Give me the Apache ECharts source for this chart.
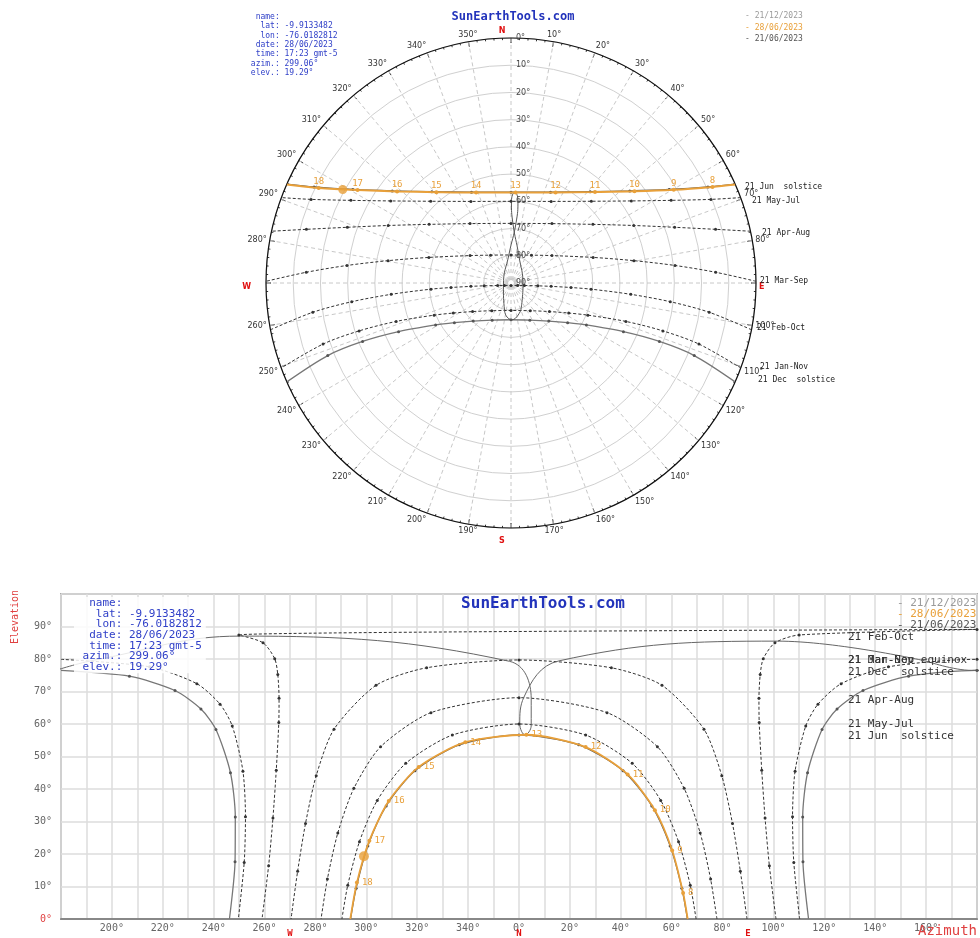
<!DOCTYPE html>
<html><head><meta charset="utf-8">
<script src="https://cdn.jsdelivr.net/npm/echarts/dist/echarts.min.js"></script>
<style>html,body{margin:0;padding:0;background:#fff}#c{width:980px;height:938px}</style>
</head><body><div id="c"></div>
<script>
// ---- Sun path data: [azimuth°, elevation°] ----
const junSolstice = [[66.2,0],[64.0,9.5],[59.4,22.5],[52.2,34.8],[40.9,45.6],[23.5,53.6],[0,56.65],[336.5,53.6],[319.1,45.6],[307.8,34.8],[300.6,22.5],[296.0,9.5],[293.8,0]];
const mayJul = [[69.6,0],[67.3,10.4],[62.7,23.8],[55.7,36.5],[44.5,47.9],[26.2,56.6],[0,60.0],[333.8,56.6],[315.5,47.9],[304.3,36.5],[297.3,23.8],[292.7,10.4],[290.4,0]];
const aprAug = [[77.8,0],[75.3,12.3],[71.2,26.5],[64.9,40.2],[54.4,53.0],[34.6,63.5],[0,68.1],[325.4,63.5],[305.6,53.0],[295.1,40.2],[288.8,26.5],[284.7,12.3],[282.2,0]];
const marSep = [[89.6,0],[87.0,14.7],[83.9,29.4],[79.7,44.1],[72.7,58.4],[56.2,71.9],[36.3,77.3],[0,79.7],[323.7,77.3],[303.8,71.9],[287.3,58.4],[280.3,44.1],[276.1,29.4],[273.0,14.7],[270.4,0]];
const febOct = [[101.0,0],[98.4,16.4],[96.7,31.1],[95.4,45.8],[94.4,60.5],[94.3,67.9],[94.8,75.2],[96.0,80.1],[100.6,85.0],[110.1,87.4],[180,89.1],[249.9,87.4],[259.4,85.0],[264.0,80.1],[265.2,75.2],[265.7,67.9],[265.6,60.5],[264.6,45.8],[263.3,31.1],[261.6,16.4],[259.0,0]];
const janNov = [[110.3,0],[108.0,17.4],[107.5,31.5],[108.5,45.5],[112.7,59.4],[117.5,66.1],[126.6,72.4],[145.2,77.6],[180,79.9],[214.8,77.6],[233.4,72.4],[242.5,66.1],[247.3,59.4],[251.5,45.5],[252.5,31.5],[252.0,17.4],[249.7,0]];
const decSolstice = [[113.8,0],[111.6,17.6],[111.5,31.4],[113.4,45.0],[119.1,58.3],[125.0,64.6],[135.2,70.3],[153.1,74.7],[180,76.5],[206.9,74.7],[224.8,70.3],[235.0,64.6],[240.9,58.3],[246.6,45.0],[248.5,31.4],[248.4,17.6],[246.2,0]];
// 28/06/2023 path with hour labels
const todayPath = [[66.3,0],[64.5,8.0],[60.2,21.1],[53.4,33.5],[42.7,44.5],[26.2,52.9],[2.9,56.7],[338.9,54.4],[320.6,46.8],[308.8,36.3],[301.2,24.1],[296.3,11.2],[293.7,0]];
const todayHours = [null,8,9,10,11,12,13,14,15,16,17,18,null];
const sunNow = [299.06, 19.29];
// analemma (monthly, 21st)
const analemma = [[160.3,79.3],[101.5,85.5],[15.6,79.4],[1.9,68.2],[0.3,60.0],[2.4,56.6],[4.8,59.5],[4.8,67.8],[356.2,79.3],[250.4,87.05],[193.4,79.7],[177.9,76.5],[160.3,79.3]];

const infoLines = ['  name:','   lat: -9.9133482','   lon: -76.0182812','  date: 28/06/2023','  time: 17:23 gmt-5',' azim.: 299.06°',' elev.: 19.29°'];
const legendDates = ['- 21/12/2023','- 28/06/2023','- 21/06/2023'];
const legendColors = ['#9a9a9a','#e8a03a','#555555'];

const ORANGE = '#e8a03a';
const MONO = '"DejaVu Sans Mono", "Liberation Mono", monospace';

function toX(az){ return az > 180 ? az - 360 : az; }

function polarData(pts, hours){
  return pts.map((p,i)=>{
    const it = {value:[p[1], p[0]]};
    if (p[1] === 0) it.symbol = 'none';
    if (hours && hours[i] != null) it.label = {show:true, formatter:String(hours[i])};
    return it;
  });
}
function cartData(pts, hours){
  const out = []; let prev = null;
  pts.forEach((p,i)=>{
    const x = toX(p[0]), y = p[1];
    if (prev && Math.abs(x - prev[0]) > 300) {
      const s = x < prev[0] ? 360 : -360;
      out.push({value:[x + s, y], symbol:'none'});
      out.push([NaN, NaN]);
      out.push({value:[prev[0] - s, prev[1]], symbol:'none'});
    }
    const it = {value:[x, y]};
    if (y === 0) it.symbol = 'none';
    if (hours && hours[i] != null) it.label = {show:true, formatter:String(hours[i])};
    out.push(it);
    prev = [x, y];
  });
  return out;
}

const dotted = {color:'#333', width:1, type:[3,2]};
const paths = [
  {d:mayJul, ls:dotted, c:'#333'},
  {d:aprAug, ls:dotted, c:'#333'},
  {d:marSep, ls:dotted, c:'#333'},
  {d:febOct, ls:dotted, c:'#333'},
  {d:janNov, ls:dotted, c:'#333'},
  {d:decSolstice, ls:{color:'#777', width:1.3}, c:'#555'},
  {d:junSolstice, ls:{color:'#555', width:1.3}, c:'#444'}
];

const series = [];
paths.forEach(p=>{
  series.push({type:'line', coordinateSystem:'polar', data:polarData(p.d), smooth:0.3, symbol:'circle', symbolSize:3,
    lineStyle:p.ls, itemStyle:{color:p.c}, silent:true, z:3});
  series.push({type:'line', xAxisIndex:0, yAxisIndex:0, data:cartData(p.d), smooth:0.25, symbol:'circle', symbolSize:3,
    lineStyle:p.ls, itemStyle:{color:p.c}, silent:true, z:3});
});
// analemma
series.push({type:'line', coordinateSystem:'polar', data:polarData(analemma), smooth:0.5, showSymbol:false,
  lineStyle:{color:'#555', width:1}, silent:true, z:3});
series.push({type:'line', xAxisIndex:0, yAxisIndex:0, data:cartData(analemma), smooth:0.4, showSymbol:false,
  lineStyle:{color:'#666', width:1}, silent:true, z:3});
// today path
const orangeLabel = {position:'top', distance:0, color:ORANGE, fontSize:9, fontFamily:MONO};
series.push({type:'line', coordinateSystem:'polar', data:polarData(todayPath, todayHours), smooth:0.3, symbol:'circle', symbolSize:4,
  lineStyle:{color:ORANGE, width:2}, itemStyle:{color:ORANGE}, label:orangeLabel, silent:true, z:5});
series.push({type:'line', xAxisIndex:0, yAxisIndex:0, data:cartData(todayPath, todayHours), smooth:0.25, symbol:'circle', symbolSize:4,
  lineStyle:{color:ORANGE, width:1.8}, itemStyle:{color:ORANGE}, label:{position:'right', distance:3, color:ORANGE, fontSize:9, fontFamily:MONO}, silent:true, z:5});
series.push({type:'scatter', coordinateSystem:'polar', data:[[sunNow[1], sunNow[0]]], symbolSize:9, itemStyle:{color:ORANGE}, silent:true, z:6});
series.push({type:'scatter', xAxisIndex:0, yAxisIndex:0, data:[[toX(sunNow[0]), sunNow[1]]], symbolSize:10, itemStyle:{color:ORANGE}, silent:true, z:6});

function angleLabel(v){
  if (v === 0) return '{n|N}';
  if (v === 90) return '{e|E}';
  if (v === 180) return '{s|S}';
  if (v === 270) return '{w|W}';
  if (v === 360) return '';
  return v + '°';
}
const redTxt = {color:'#e01010', fontWeight:'bold', fontSize:8};

const graphic = [];
function txt(x, y, text, font, fill, align, extra){
  graphic.push(Object.assign({type:'text', x:x, y:y, silent:true, z:50,
    style:Object.assign({text:text, font:font, fill:fill, textAlign:align||'left', verticalAlign:'middle'}, extra||{})}));
}
// polar header
txt(513, 17, 'SunEarthTools.com', 'bold 12px ' + MONO, '#2233bb', 'center');
graphic.push({type:'text', x:246, y:12, silent:true, z:50, style:{text:infoLines.join('\n'), font:'8px ' + MONO, fill:'#3040c8', lineHeight:9.4, verticalAlign:'top'}});
legendDates.forEach((t,i)=>txt(745, 16 + i*11.5, t, '8px ' + MONO, legendColors[i]));
// polar path labels
const pl = [['21 Jun  solstice',745,187],['21 May-Jul',752,201],['21 Apr-Aug',762,233],['21 Mar-Sep',760,281],['21 Feb-Oct',757,328],['21 Jan-Nov',760,367],['21 Dec  solstice',758,380]];
pl.forEach(a=>txt(a[1], a[2], a[0], '8px ' + MONO, '#222'));
// cartesian header
txt(543, 604, 'SunEarthTools.com', 'bold 16px ' + MONO, '#2233bb', 'center');
graphic.push({type:'text', x:74, y:597, silent:true, z:50, style:{text:infoLines.join('\n'), font:'11px ' + MONO, fill:'#3040c8', lineHeight:10.6, verticalAlign:'top', backgroundColor:'rgba(255,255,255,0.85)', padding:[1,4,1,2]}});
legendDates.forEach((t,i)=>txt(897, 603 + i*11, t, '11px ' + MONO, legendColors[i]));
const cl = [['21 Feb-Oct',637],['21 Mar-Sep equinox',660],['21 Jan-Nov',660],['21 Dec  solstice',672],['21 Apr-Aug',700],['21 May-Jul',724],['21 Jun  solstice',736]];
cl.forEach(a=>txt(848, a[1], a[0], '11px ' + MONO, '#333'));
txt(918, 931, 'Azimuth', '14px ' + MONO, '#e04040');
graphic.push({type:'text', x:15, y:617, rotation:Math.PI/2, silent:true, z:50, style:{text:'Elevation', font:'10px ' + MONO, fill:'#e04040', textAlign:'center', verticalAlign:'middle'}});

const option = {
  animation:false,
  backgroundColor:'#ffffff',
  polar:{center:[511,283], radius:245},
  angleAxis:{type:'value', min:0, max:360, interval:10, startAngle:90, clockwise:true,
    axisLine:{lineStyle:{color:'#111', width:1.2}},
    axisTick:{show:true, inside:true, length:5, lineStyle:{color:'#111'}},
    minorTick:{show:true, splitNumber:5, length:2, lineStyle:{color:'#333'}},
    axisLabel:{margin:3, fontSize:8, color:'#333', fontFamily:'DejaVu Sans', formatter:angleLabel,
      rich:{n:Object.assign({padding:[0,18,0,0]}, redTxt), e:Object.assign({padding:[8,0,0,0]}, redTxt), s:Object.assign({padding:[6,18,0,0]}, redTxt), w:Object.assign({padding:[8,12,0,0]}, redTxt)}},
    splitLine:{show:true, lineStyle:{color:'#c8c8c8', type:[4,3], width:1}}},
  radiusAxis:{type:'value', min:0, max:90, interval:10, inverse:true,
    axisLine:{show:false}, axisTick:{show:false},
    axisLabel:{fontSize:8, color:'#444', fontFamily:'DejaVu Sans', formatter:'{value}°', margin:-5, align:'left'},
    splitLine:{show:true, lineStyle:{color:'#d0d0d0', width:1}}},
  grid:{left:61, top:594, right:-13, bottom:19, show:true, borderColor:'#aaa', borderWidth:2, backgroundColor:'#fff'},
  xAxis:[
    {type:'value', min:-180, max:180, interval:10, gridIndex:0,
      axisLine:{lineStyle:{color:'#888', width:2}}, axisTick:{show:false},
      axisLabel:{fontSize:10, color:'#666', margin:4, fontFamily:MONO,
        formatter:v=> (v % 20 !== 0 || Math.abs(v) === 180) ? '' : ((v < 0 ? v + 360 : v) + '°')},
      splitLine:{show:true, lineStyle:{color:'#dcdcdc', width:1.5}}},
    {type:'value', min:-180, max:180, interval:90, gridIndex:0, position:'bottom',
      axisLine:{show:false}, axisTick:{show:false}, splitLine:{show:false},
      axisLabel:{margin:10, fontSize:9, fontWeight:'bold', color:'#e01010', fontFamily:MONO,
        formatter:v=> v === -90 ? 'W' : v === 0 ? 'N' : v === 90 ? 'E' : ''}}
  ],
  yAxis:{type:'value', min:0, max:100, interval:10, gridIndex:0,
    axisLine:{show:false}, axisTick:{show:false},
    axisLabel:{fontSize:10, color:'#666', margin:9, fontFamily:MONO,
      formatter:v=> v === 100 ? '' : (v === 0 ? '{r|0°}' : v + '°'), rich:{r:{color:'#e04040', fontSize:10, fontFamily:MONO}}},
    splitLine:{show:true, lineStyle:{color:'#dcdcdc', width:1.5}}},
  series:series,
  graphic:graphic
};
const chart = echarts.init(document.getElementById('c'), null, {renderer:'canvas'});
chart.setOption(option);
</script></body></html>
